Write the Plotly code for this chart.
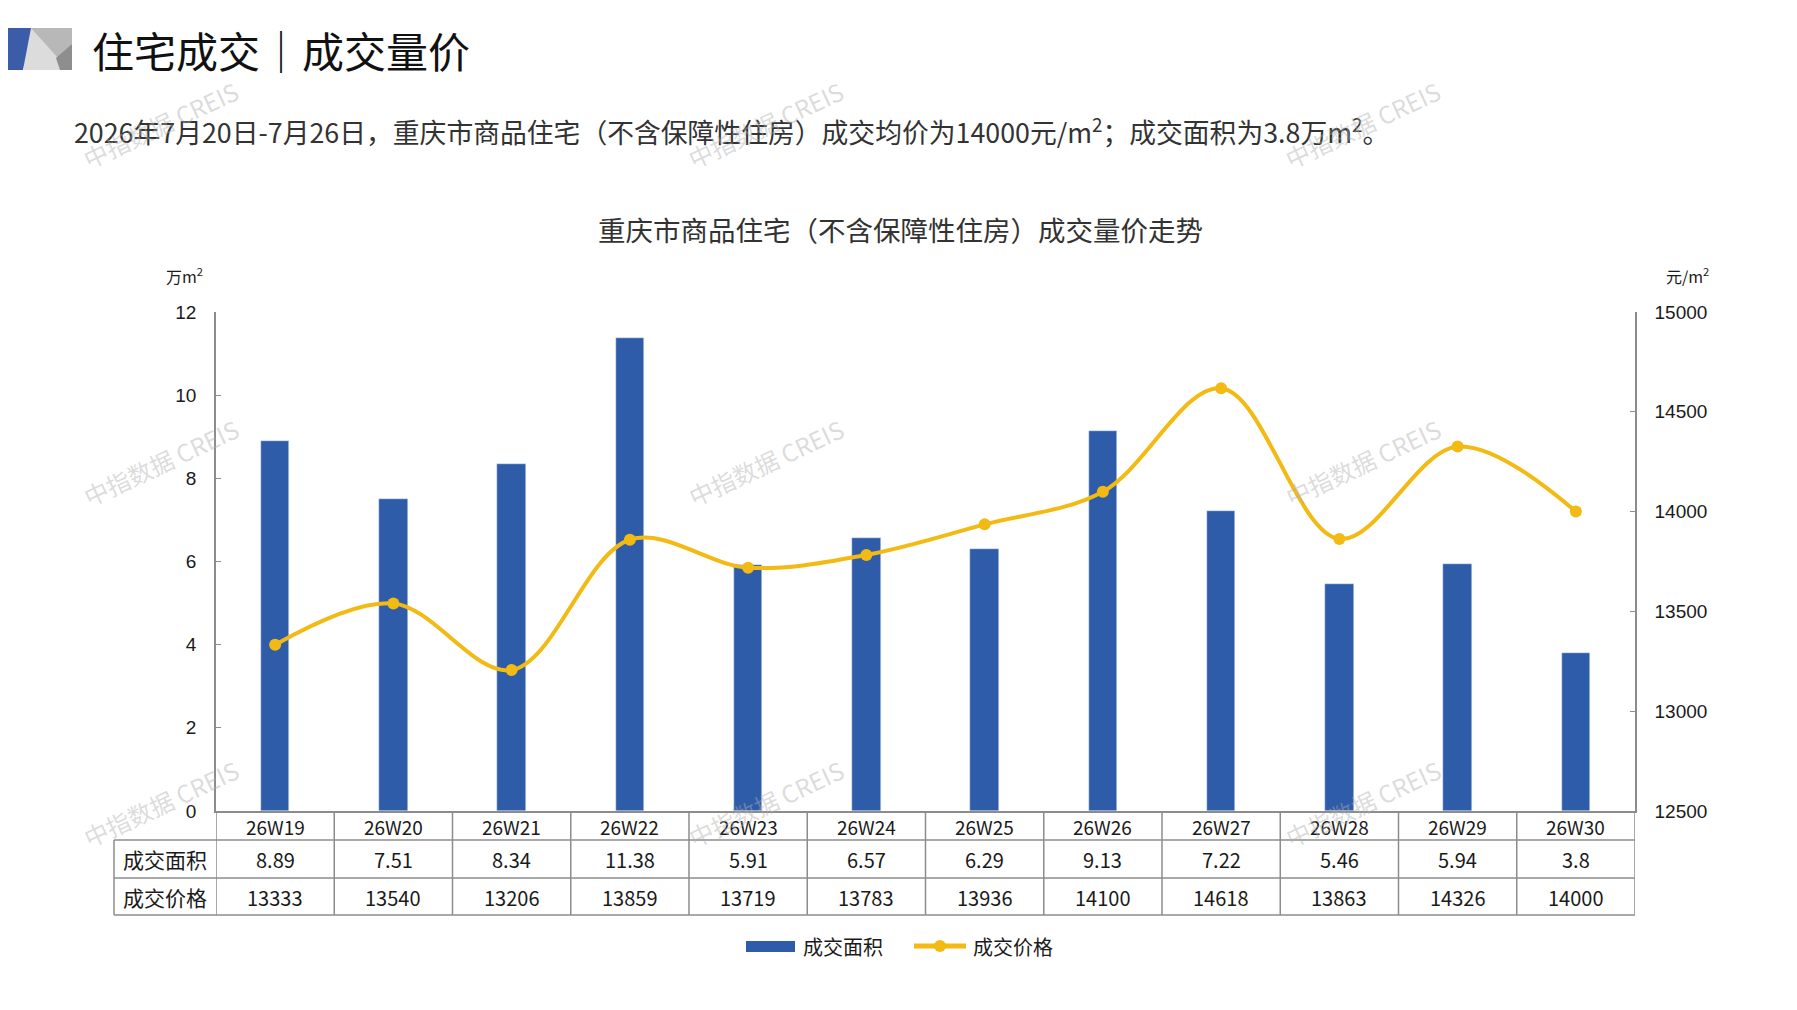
import plotly.graph_objects as go

# ---------------- data ----------------
weeks = ["26W19", "26W20", "26W21", "26W22", "26W23", "26W24",
         "26W25", "26W26", "26W27", "26W28", "26W29", "26W30"]
area_values = [8.89, 7.51, 8.34, 11.38, 5.91, 6.57, 6.29, 9.13, 7.22, 5.46, 5.94, 3.8]
area_labels = ["8.89", "7.51", "8.34", "11.38", "5.91", "6.57",
               "6.29", "9.13", "7.22", "5.46", "5.94", "3.8"]
price_values = [13333, 13540, 13206, 13859, 13719, 13783, 13936, 14100, 14618, 13863, 14326, 14000]
left_ticks = [0, 2, 4, 6, 8, 10, 12]
right_ticks = [12500, 13000, 13500, 14000, 14500, 15000]
right_tick_text = ["12500", "13000", "13500", "14000", "14500", "15000"]
series_names = ["成交面积", "成交价格"]

# ---------------- geometry (reference pixels) ----------------
OFF = 8                      # default page margin of the html body
W, H = 1797 - 2 * OFF, 1010 - 2 * OFF
PL, PR, PT, PB = 216, 1635, 312, 811   # plot area in reference pixels
def px(x):
    return (x - PL) / (PR - PL)
def py(y):
    return (PB - y) / (PB - PT)

CJK = "Noto Sans CJK SC"
LAT = "Liberation Sans"
BAR_C = "#2E5CA8"
LINE_C = "#F2BA12"
GRID_C = "#8C8C8C"
TXT = "#1a1a1a"

fig = go.Figure()
fig.add_trace(go.Bar(x=weeks, y=area_values, name=series_names[0],
                     marker=dict(color=BAR_C), width=0.24, yaxis="y"))
fig.add_trace(go.Scatter(x=weeks, y=price_values, name=series_names[1], yaxis="y2",
                         mode="lines+markers",
                         line=dict(color=LINE_C, width=4, shape="spline", smoothing=1.0),
                         marker=dict(color=LINE_C, size=12)))

shapes = []
annotations = []

def text(x, y, t, size, color=TXT, family=CJK, xanchor="center", xref="paper", angle=0):
    annotations.append(dict(x=x, y=py(y), xref=xref, yref="paper", text=t,
                            showarrow=False, xanchor=xanchor, yanchor="middle",
                            textangle=angle,
                            font=dict(family=family, size=size, color=color)))

# ---- table lines ----
row_y = [811, 840, 878, 915]
for yy in row_y[1:]:
    shapes.append(dict(type="line", xref="paper", yref="paper",
                       x0=px(114), x1=px(PR), y0=py(yy), y1=py(yy),
                       line=dict(color=GRID_C, width=1.5)))
for i in range(len(weeks) + 1):
    shapes.append(dict(type="line", xref="x", yref="paper",
                       x0=i - 0.5, x1=i - 0.5, y0=py(811), y1=py(915),
                       line=dict(color=GRID_C, width=1.5)))
shapes.append(dict(type="line", xref="paper", yref="paper",
                   x0=px(114), x1=px(114), y0=py(840), y1=py(915),
                   line=dict(color=GRID_C, width=1.5)))

# ---- table text ----
for i, wk in enumerate(weeks):
    text(i, 826, wk, 19, xref="x")
    text(i, 859, area_labels[i], 20, xref="x")
    text(i, 897, str(price_values[i]), 20, xref="x")
text(px(165), 859, series_names[0], 21)
text(px(165), 897, series_names[1], 21)

# ---- axis unit labels ----
text(px(184), 276, "万m<sup>2</sup>", 16)
text(px(1688), 276, "元/m<sup>2</sup>", 16)

# ---- chart title ----
text(px(900), 229, "重庆市商品住宅（不含保障性住房）成交量价走势", 27.5, color="#333333")

# ---- page header ----
text(px(90), 49, "住宅成交｜成交量价", 42, color="#111111", xanchor="left")
text(px(72), 131,
     "2026年7月20日-7月26日，重庆市商品住宅（不含保障性住房）成交均价为14000元/m<sup>2</sup>；成交面积为3.8万m<sup>2</sup>。",
     26.8, color="#333333", xanchor="left")

def poly(points, color):
    d = "M " + " L ".join(f"{px(a):.5f},{py(b):.5f}" for a, b in points) + " Z"
    shapes.append(dict(type="path", xref="paper", yref="paper", path=d,
                       fillcolor=color, line=dict(width=0), layer="above"))

poly([(24, 28), (72, 28), (72, 70), (24, 70)], "#dcdcdc")
poly([(31, 28), (72, 28), (72, 44), (58, 58)], "#b8b8b8")
poly([(72, 44), (72, 70), (60, 70), (56, 58)], "#8e8e8e")
poly([(0, 28), (31, 28), (23, 70), (0, 70)], "#3A5CA9")

# ---- watermarks ----
for wx in [160, 765, 1362]:
    for wy in [125, 462, 803]:
        text(px(wx), wy, "中指数据 CREIS", 24, color="rgba(175,175,175,0.45)", angle=-25)

# ---- manual legend ----
shapes.append(dict(type="rect", xref="paper", yref="paper",
                   x0=px(746), x1=px(795), y0=py(941), y1=py(952),
                   fillcolor=BAR_C, line=dict(width=0)))
shapes.append(dict(type="line", xref="paper", yref="paper",
                   x0=px(914), x1=px(966), y0=py(946), y1=py(946),
                   line=dict(color=LINE_C, width=5)))
shapes.append(dict(type="circle", xref="paper", yref="paper",
                   x0=px(934), x1=px(946), y0=py(940), y1=py(952),
                   fillcolor=LINE_C, line=dict(width=0)))
text(px(801), 946, series_names[0], 20, xanchor="left")
text(px(971), 946, series_names[1], 20, xanchor="left")

fig.update_layout(
    width=W, height=H,
    margin=dict(l=PL - OFF, r=W - (PR - OFF), t=PT - OFF, b=H - (PB - OFF), pad=0),
    paper_bgcolor="white", plot_bgcolor="white",
    showlegend=False, bargap=0.0,
    xaxis=dict(type="category", range=[-0.5, len(weeks) - 0.5], showticklabels=False,
               showgrid=False, zeroline=False, showline=True, linecolor=GRID_C, linewidth=1.5,
               ticks=""),
    yaxis=dict(range=[0, 12], tickvals=left_ticks, showgrid=False, zeroline=False,
               showline=True, linecolor=GRID_C, linewidth=1.5, ticks="inside", ticklen=5,
               tickcolor=GRID_C, ticklabelstandoff=14,
               tickfont=dict(family=LAT, size=19, color=TXT)),
    yaxis2=dict(range=[12500, 15000], tickvals=right_ticks, ticktext=right_tick_text,
                overlaying="y", side="right",
                showgrid=False, zeroline=False, showline=True, linecolor=GRID_C, linewidth=1.5,
                ticks="inside", ticklen=5, tickcolor=GRID_C, ticklabelstandoff=14,
                tickfont=dict(family=LAT, size=19, color=TXT)),
    shapes=shapes, annotations=annotations,
)

fig.write_html("out.html")
